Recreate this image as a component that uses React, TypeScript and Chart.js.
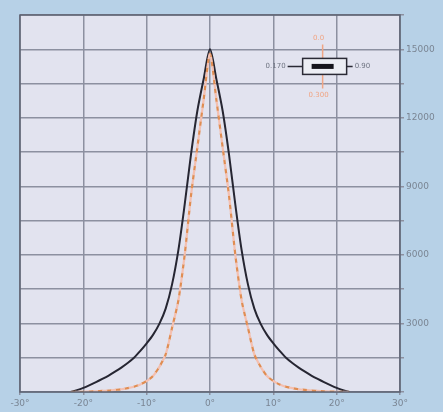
import React, { useEffect, useRef } from "react";
import { Chart, registerables } from "chart.js";

Chart.register(...registerables);

// Angle (degrees) and intensity values
const blackAngles = [-22, -21, -20, -19, -18, -17, -16, -15, -14, -13, -12, -11, -10, -9, -8, -7, -6, -5, -4, -3, -2, -1, 0, 1, 2, 3, 4, 5, 6, 7, 8, 9, 10, 11, 12, 13, 14, 15, 16, 17, 18, 19, 20, 21, 22];
const blackValues = [0, 80, 180, 300, 430, 570, 720, 890, 1070, 1270, 1500, 1800, 2130, 2500, 2980, 3650, 4700, 6200, 8200, 10400, 12300, 13700, 15000, 13700, 12300, 10400, 8200, 6200, 4700, 3650, 2980, 2500, 2130, 1800, 1500, 1270, 1070, 890, 720, 570, 430, 300, 180, 80, 0];

const orangeAngles = [-22, -21, -20, -19, -18, -17, -16, -15, -14, -13, -12, -11, -10, -9, -8, -7, -6, -5, -4, -3, -2, -1, 0, 1, 2, 3, 4, 5, 6, 7, 8, 9, 10, 11, 12, 13, 14, 15, 16, 17, 18, 19, 20, 21, 22];
const orangeValues = [0, 5, 10, 20, 30, 45, 60, 90, 120, 170, 230, 330, 480, 700, 1100, 1650, 2800, 4000, 6000, 8600, 10700, 12800, 14800, 12800, 10700, 8600, 6000, 4000, 2800, 1650, 1100, 700, 480, 330, 230, 170, 120, 90, 60, 45, 30, 20, 10, 5, 0];

const xTicks = [-30, -20, -10, 0, 10, 20, 30];
const yLabelValues = [3000, 6000, 9000, 12000, 15000];

// Inset cross marker (center in data units) and its labels
const insetCenter = { x: 18.1, y: 14250 };
const insetLabels = { left: "0.170", right: "0.90", top: "0.0", bottom: "0.300" };

const bgPlugin = {
  id: "bgPlugin",
  beforeDraw(chart: any) {
    const { ctx, chartArea } = chart;
    ctx.save();
    ctx.fillStyle = "#e2e3ef";
    ctx.fillRect(chartArea.left, chartArea.top, chartArea.right - chartArea.left, chartArea.bottom - chartArea.top);
    ctx.restore();
  },
  afterDatasetsDraw(chart: any) {
    const { ctx, chartArea, scales } = chart;
    ctx.save();
    ctx.strokeStyle = "#5c6272";
    ctx.lineWidth = 1.5;
    ctx.strokeRect(chartArea.left, chartArea.top, chartArea.right - chartArea.left, chartArea.bottom - chartArea.top);

    const cx = scales.x.getPixelForValue(insetCenter.x);
    const cy = scales.y.getPixelForValue(insetCenter.y);
    // orange vertical whiskers
    ctx.strokeStyle = "#f0a584";
    ctx.lineWidth = 1.5;
    ctx.beginPath();
    ctx.moveTo(cx - 2, cy - 22);
    ctx.lineTo(cx - 2, cy - 8);
    ctx.moveTo(cx - 2, cy + 8);
    ctx.lineTo(cx - 2, cy + 22);
    ctx.stroke();
    // black horizontal whiskers
    ctx.strokeStyle = "#2a2a35";
    ctx.beginPath();
    ctx.moveTo(cx - 37, cy);
    ctx.lineTo(cx - 22, cy);
    ctx.moveTo(cx + 22, cy);
    ctx.lineTo(cx + 28, cy);
    ctx.stroke();
    // box
    ctx.fillStyle = "#eceef4";
    ctx.fillRect(cx - 22, cy - 8, 44, 16);
    ctx.strokeStyle = "#2a2a35";
    ctx.lineWidth = 1.5;
    ctx.strokeRect(cx - 22, cy - 8, 44, 16);
    ctx.fillStyle = "#15151c";
    ctx.fillRect(cx - 13, cy - 2.5, 22, 5);
    // labels
    ctx.font = "7px 'DejaVu Sans'";
    ctx.fillStyle = "#6f7482";
    ctx.textBaseline = "middle";
    ctx.textAlign = "right";
    ctx.fillText(insetLabels.left, cx - 39, cy);
    ctx.textAlign = "left";
    ctx.fillText(insetLabels.right, cx + 30, cy);
    ctx.fillStyle = "#f0a584";
    ctx.textAlign = "center";
    ctx.fillText(insetLabels.top, cx - 6, cy - 28);
    ctx.fillText(insetLabels.bottom, cx - 6, cy + 29);
    ctx.restore();
  },
};

export default function App() {
  const canvasRef = useRef<HTMLCanvasElement>(null);

  useEffect(() => {
    document.body.style.margin = "0";
    const canvas = canvasRef.current;
    if (!canvas) return;
    const toPts = (xs: number[], ys: number[]) => xs.map((x, i) => ({ x, y: ys[i] }));
    const chart = new Chart(canvas, {
      type: "line",
      data: {
        datasets: [
          {
            data: toPts(orangeAngles, orangeValues),
            borderColor: "#f4c0b0",
            borderWidth: 2.2,
            borderDash: [5, 4],
            borderDashOffset: 4.5,
            pointRadius: 0,
            tension: 0.25,
            fill: false,
          },
          {
            data: toPts(orangeAngles, orangeValues),
            borderColor: "#e08d52",
            borderWidth: 2.2,
            borderDash: [5, 4],
            pointRadius: 0,
            tension: 0.25,
            fill: false,
          },
          {
            data: toPts(blackAngles, blackValues),
            borderColor: "#262632",
            borderWidth: 2,
            pointRadius: 0,
            tension: 0.3,
            fill: false,
          },
        ],
      },
      options: {
        responsive: false,
        animation: false,
        events: [],
        layout: { padding: { left: 20, top: 15, right: 0, bottom: 0 } },
        plugins: { legend: { display: false }, tooltip: { enabled: false } },
        scales: {
          x: {
            type: "linear",
            min: -30,
            max: 30,
            afterBuildTicks: (axis: any) => {
              axis.ticks = xTicks.map((v) => ({ value: v }));
            },
            afterFit: (axis: any) => {
              axis.height = 20;
            },
            grid: { color: "#8c90a0", lineWidth: 1.5, drawTicks: true, tickLength: 3 },
            border: { display: false },
            ticks: {
              color: "#7a8593",
              font: { family: "DejaVu Sans", size: 9 },
              padding: 3,
              maxRotation: 0,
              callback: (v: any) => `${v}°`,
            },
          },
          y: {
            position: "right",
            min: 0,
            max: 16500,
            afterBuildTicks: (axis: any) => {
              const t = [];
              for (let v = 0; v <= 16500; v += 1500) t.push({ value: v });
              axis.ticks = t;
            },
            afterFit: (axis: any) => {
              axis.width = 43;
            },
            grid: { color: "#8c90a0", lineWidth: 1.5, drawTicks: true, tickLength: 4 },
            border: { display: false },
            ticks: {
              color: "#7a8593",
              font: { family: "DejaVu Sans", size: 9 },
              padding: 2,
              callback: (v: any) => (yLabelValues.includes(Number(v)) ? String(v) : ""),
            },
          },
        },
      },
      plugins: [bgPlugin],
    });
    return () => chart.destroy();
  }, []);

  return (
    <div style={{ position: "absolute", left: 0, top: 0, width: 443, height: 412, background: "#b7d1e7" }}>
      <canvas ref={canvasRef} width={443} height={412} style={{ display: "block" }} />
    </div>
  );
}
